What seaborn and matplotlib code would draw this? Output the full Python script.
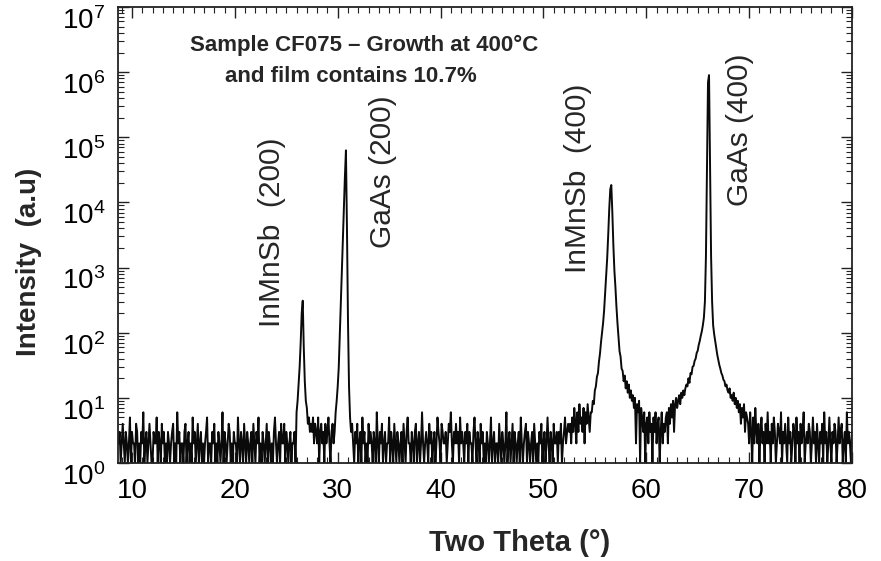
import numpy as np
import pandas as pd
import matplotlib
matplotlib.use("Agg")
import matplotlib.pyplot as plt
import seaborn as sns
from matplotlib.ticker import LogLocator, MultipleLocator, NullFormatter

# ---------------- data ----------------
scan_step = 0.1  # degrees

# background 8.7 .. 25.9
noise_a = [2,3,1,2,4,2,1,3,2,1,
           2,5,1,3,2,2,1,4,3,1,
           2,1,3,2,6,1,2,3,1,2,
           4,2,1,1,3,2,2,5,1,3,
           2,1,4,2,3,1,2,1,3,2,
           1,2,3,4,1,2,1,6,2,3,
           1,2,2,1,3,4,1,2,3,1,
           2,1,5,2,3,1,2,4,1,2,
           3,1,2,1,2,3,5,1,2,2,
           1,3,2,4,1,2,1,3,2,1,
           2,6,1,3,2,1,2,4,3,1,
           2,1,3,2,2,1,5,2,1,3,
           2,1,4,2,1,3,2,1,2,3,
           1,4,2,1,3,2,5,1,2,1,
           3,2,1,2,4,1,3,2,1,2,
           1,3,5,2,1,2,3,1,4,2,
           2,4,1,3,2,1,2,3,1,2,
           2,3,1]
# InMnSb (200) 26.0 .. 27.3
peak_inmnsb200 = [6, 9, 16, 30, 70, 200, 310, 60, 18, 9, 7, 4, 5, 3]
# background 27.4 .. 29.7
noise_b = [4,3,5,2,4,3,2,5,1,3,4,2,3,1,4,2,3,5,2,1,3,4,2,3]
# GaAs (200) 29.8 .. 31.4
peak_gaas200 = [6, 9, 15, 29, 89, 280, 850, 2500, 8000, 25000, 63000,
                4000, 150, 15, 5, 3, 4]
# background 31.5 .. 52.7
noise_c = [2,1,3,2,4,1,2,3,1,5,
           2,3,1,2,1,4,2,3,2,1,
           3,2,1,6,2,1,3,2,4,1,
           2,3,1,2,2,5,1,3,2,1,
           4,2,1,3,2,1,2,3,1,4,
           2,1,3,5,2,2,1,3,2,1,
           3,4,1,2,3,1,2,6,2,1,
           2,3,2,1,4,2,3,1,2,3,
           1,2,5,3,2,1,4,3,2,2,
           3,1,2,4,3,6,2,1,3,2,
           4,2,3,1,5,2,3,2,1,3,
           2,4,1,3,2,2,1,3,5,2,
           1,3,2,1,4,2,3,1,2,1,
           3,2,1,2,5,1,2,3,1,2,
           2,1,4,2,1,3,2,1,2,6,
           1,2,3,1,2,4,1,3,2,1,
           2,3,1,5,2,1,2,3,4,1,
           3,2,1,2,3,1,4,2,1,2,
           1,3,2,4,1,2,3,1,2,5,
           2,1,3,2,1,4,2,2,3,1,
           3,2,4,1,2,3,5,2,3,4,
           3,4,2]
# raised background 52.8 .. 54.6
noise_d = [5,3,7,4,2,6,3,8,4,5,3,7,2,6,4,8,5,3,6]
# InMnSb (400) 54.7 .. 57.8
peak_inmnsb400 = [6, 9, 8, 13, 15, 21, 24, 36, 48, 72,
                  100, 140, 220, 400, 700, 1400, 3200, 8000, 16000, 18500,
                  7000, 2200, 900, 500, 250, 140, 85, 52, 43, 28, 26, 18]
# valley 57.9 .. 63.0
valley = [22, 14, 18, 12, 16, 10, 13, 9, 11,
          7, 10, 2, 8, 6, 9, 1, 7,
          5, 3, 6, 1, 4, 5, 2, 6, 3, 4, 1, 5, 3, 6, 2, 4, 5, 1, 3, 6, 2, 4, 3, 5,
          6, 2, 7, 4, 8, 5, 9, 3, 8, 10, 7]
# GaAs (400) 63.1 .. 69.8
peak_gaas400 = [9, 11, 8, 12, 10, 13, 11, 14, 16, 15,
                20, 17, 24, 23, 30, 31, 37, 40, 49, 53,
                65, 75, 90, 105, 130, 170, 300, 1500, 30000, 700000,
                900000, 40000, 1500, 300, 130, 95, 75, 58, 46, 38,
                32, 28, 24, 22, 19, 18, 15, 16, 13, 12,
                14, 10, 11, 9, 12, 8, 10, 7, 9, 6,
                8, 4, 7, 5, 8, 3, 6, 5]
# background 69.9 .. 80.0
noise_e = [4,2,6,3,1,5,2,7,3,2,
           4,1,3,5,2,3,1,4,2,6,
           2,3,1,4,2,5,3,1,2,4,
           3,2,6,1,3,2,4,2,1,5,
           2,3,1,2,4,3,1,5,2,3,
           1,4,2,3,6,1,2,3,2,4,
           3,1,2,5,2,3,1,4,2,1,
           3,2,4,1,6,2,3,1,2,5,
           2,1,3,2,4,3,1,2,5,2,
           3,4,1,2,3,1,6,2,3,2,
           1,3]

segments = [(8.7, 25.9, noise_a), (26.0, 27.3, peak_inmnsb200),
            (27.4, 29.7, noise_b), (29.8, 31.4, peak_gaas200),
            (31.5, 52.7, noise_c), (52.8, 54.6, noise_d),
            (54.7, 57.8, peak_inmnsb400), (57.9, 63.0, valley),
            (63.1, 69.8, peak_gaas400), (69.9, 80.0, noise_e)]

peak_labels = ["InMnSb  (200)", "GaAs (200)", "InMnSb  (400)", "GaAs (400)"]
x_ticks = [10, 20, 30, 40, 50, 60, 70, 80]

two_theta, intensity = [], []
for start, end, vals in segments:
    n = int(round((end - start) / scan_step)) + 1
    assert len(vals) == n, (start, len(vals), n)
    two_theta += [round(start + scan_step * k, 1) for k in range(n)]
    intensity += vals
df = pd.DataFrame({"two_theta": two_theta, "intensity": intensity})

# ---------------- style ----------------
sns.set_style("ticks")
plt.rcParams["font.family"] = ["Liberation Sans", "DejaVu Sans"]
plt.rcParams["mathtext.fontset"] = "custom"
plt.rcParams["mathtext.rm"] = "Liberation Sans"
plt.rcParams["mathtext.it"] = "Liberation Sans:italic"
plt.rcParams["mathtext.bf"] = "Liberation Sans:bold"

W, H = 881, 561
fig = plt.figure(figsize=(W / 100, H / 100), dpi=100)
ax = fig.add_axes([118 / W, 1 - 463 / H, 734 / W, 456 / H])

sns.lineplot(data=df, x="two_theta", y="intensity", ax=ax, color="#0a0a0a",
             lw=1.4, estimator=None, sort=False)

ax.set_yscale("log")
ax.set_xlim(8.64, 80.0)
ax.set_ylim(1, 1e7)
ax.set_xticks(x_ticks)
ax.xaxis.set_minor_locator(MultipleLocator(1))
ax.yaxis.set_major_locator(LogLocator(base=10, numticks=10))
ax.yaxis.set_minor_locator(LogLocator(base=10, subs=range(2, 10), numticks=30))
ax.yaxis.set_minor_formatter(NullFormatter())

ax.tick_params(which="both", direction="in", top=True, right=True, colors="#222222")
ax.tick_params(which="major", length=8, width=1.0, labelsize=20, labelcolor="black")
ax.tick_params(which="minor", length=4, width=0.8)
ax.tick_params(axis="x", which="major", pad=11)
ax.tick_params(axis="y", which="major", pad=9)
for s in ax.spines.values():
    s.set_linewidth(1.3)
    s.set_color("#222222")

ax.set_xlabel("Two Theta (°)", fontsize=21, fontweight="bold")
ax.xaxis.set_label_coords((520 - 118) / 734, -0.145)
ax.set_ylabel("Intensity  (a.u)", fontsize=20, fontweight="bold")
ax.yaxis.set_label_coords((42 - 118) / 734, 1 - (262 - 7) / 456)

fig.text(190 / W, 1 - 45 / H, "Sample CF075 – Growth at 400°C", fontsize=16,
         fontweight="bold", ha="left", va="center")
fig.text(225 / W, 1 - 77 / H, "and film contains 10.7%", fontsize=16,
         fontweight="bold", ha="left", va="center")

label_pos = [(272, 232), (383, 172), (578, 178), (740, 130)]
for txt, (px, py) in zip(peak_labels, label_pos):
    fig.text(px / W, 1 - py / H, txt, fontsize=21.5, rotation=90,
             ha="center", va="center")

fig.canvas.draw()
for t in ax.yaxis.get_major_ticks():
    t.label1.set_verticalalignment("top")

fig.savefig("out.png", dpi=100)
